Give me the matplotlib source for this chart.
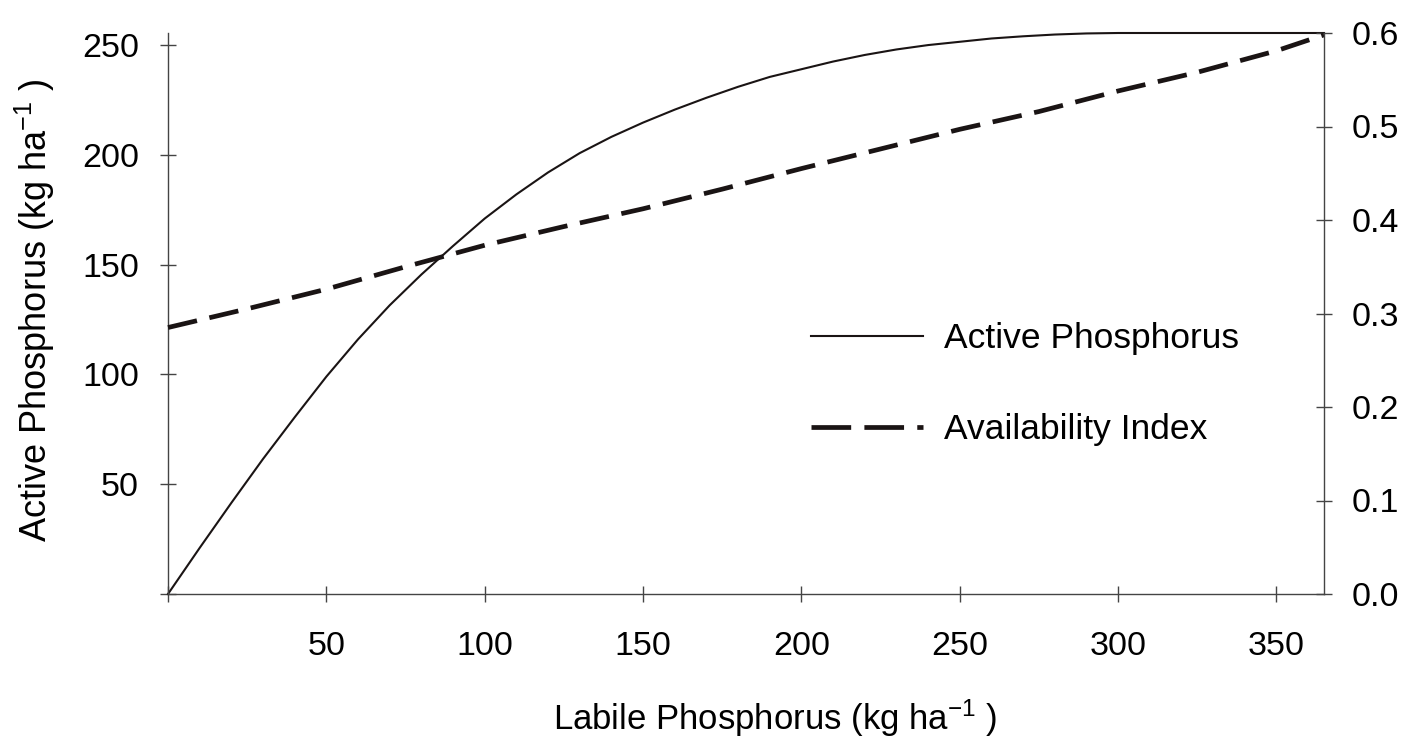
import matplotlib
matplotlib.use('Agg')
import matplotlib.pyplot as plt
from matplotlib.lines import Line2D

# ---- data ----
labile_x = [0, 10, 20, 30, 40, 50, 60, 70, 80, 90, 100, 110, 120, 130, 140, 150,
            160, 170, 180, 190, 200, 210, 220, 230, 240, 250, 260, 270, 280, 290,
            300, 365]
active_p = [0, 21, 41.5, 61.5, 80.5, 99, 116, 131.5, 145.5, 158.5, 171, 182,
            192, 200.8, 208.2, 214.7, 220.6, 226, 231, 235.5, 239, 242.5, 245.5,
            248, 250, 251.5, 253, 254, 254.8, 255.3, 255.5, 255.5]

avail_x = [0, 25, 50, 75, 100, 125, 150, 175, 200, 225, 250, 275, 300, 325, 350, 365]
avail_idx = [0.285, 0.305, 0.326, 0.350, 0.373, 0.393, 0.412, 0.433, 0.455, 0.476,
             0.497, 0.516, 0.538, 0.558, 0.581, 0.598]

x_ticks = [0, 50, 100, 150, 200, 250, 300, 350]
x_tick_labels = ['', '50', '100', '150', '200', '250', '300', '350']
yl_ticks = [0, 50, 100, 150, 200, 250]
yl_tick_labels = ['', '50', '100', '150', '200', '250']
yr_ticks = [0.0, 0.1, 0.2, 0.3, 0.4, 0.5, 0.6]
yr_tick_labels = ['0.0', '0.1', '0.2', '0.3', '0.4', '0.5', '0.6']

plt.rcParams['font.family'] = ['Liberation Sans', 'DejaVu Sans']
plt.rcParams['mathtext.fontset'] = 'custom'
plt.rcParams['mathtext.rm'] = 'Liberation Sans'
plt.rcParams['mathtext.it'] = 'Liberation Sans:italic'
plt.rcParams['mathtext.bf'] = 'Liberation Sans:bold'

W, H = 1419, 740
fig = plt.figure(figsize=(W / 100, H / 100), dpi=100)
ax = fig.add_axes([168 / W, 1 - 594 / H, (1324 - 168) / W, (594 - 33) / H])
ax2 = ax.twinx()

spine_col = '#444444'
line_col = '#1a1414'

ax.plot(labile_x, active_p, color=line_col, lw=1.5, clip_on=False)
ax2.plot(avail_x, avail_idx, color=line_col, lw=3.4, dashes=(6.3, 2.7),
         clip_on=False)

ax.set_xlim(0, 365)
ax.set_ylim(0, 255.5)
ax2.set_ylim(0, 0.6)

for a in (ax, ax2):
    a.spines['top'].set_visible(False)
    for s in a.spines.values():
        s.set_color(spine_col)
        s.set_linewidth(1.0)
ax.spines['right'].set_visible(False)
ax2.spines['left'].set_visible(False)
ax2.spines['bottom'].set_visible(False)

ax.set_xticks(x_ticks)
ax.set_xticklabels(x_tick_labels)
ax.set_yticks(yl_ticks)
ax.set_yticklabels(yl_tick_labels)
ax2.set_yticks(yr_ticks)
ax2.set_yticklabels(yr_tick_labels)

ax.tick_params(axis='x', direction='inout', length=11.5, width=1, color=spine_col,
               labelsize=24.5, pad=21)
ax.tick_params(axis='y', direction='inout', length=11.5, width=1, color=spine_col,
               labelsize=24.5, pad=15)
ax2.tick_params(axis='y', direction='inout', length=11.5, width=1, color=spine_col,
                labelsize=24.5, pad=14)

fig.text(775 / W, 1 - 718 / H, 'Labile Phosphorus (kg ha$^{-1}$ )', fontsize=25,
         ha='center', va='center')
fig.text(35 / W, 1 - 310 / H, 'Active Phosphorus (kg ha$^{-1}$ )', fontsize=26,
         ha='center', va='center', rotation=90)

h1 = Line2D([], [], color=line_col, lw=1.5)
h2 = Line2D([], [], color=line_col, lw=3.4, dashes=(8.4, 2.8))
ax2.legend(handles=[h1, h2], labels=['Active Phosphorus', 'Availability Index'],
           loc='upper left',
           bbox_to_anchor=(811 / W, 1 - 322 / H), bbox_transform=fig.transFigure,
           frameon=False, fontsize=25.5, handlelength=3.15, handletextpad=0.6,
           labelspacing=1.65, borderpad=0, borderaxespad=0)

fig.savefig('out.png', dpi=100)
